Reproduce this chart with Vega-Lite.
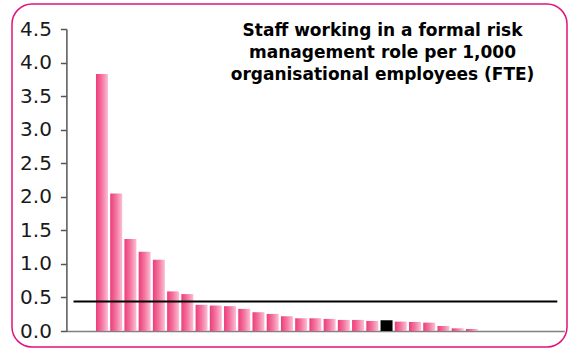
{
  "$schema": "https://vega.github.io/schema/vega-lite/v6.json",
  "autosize": "none",
  "width": 555,
  "height": 343,
  "padding": {"left": 12, "top": 4, "right": 4, "bottom": 2},
  "background": "white",
  "config": {
    "view": {"stroke": "#E2127A", "strokeWidth": 1.5, "cornerRadius": 20},
    "font": "DejaVu Sans"
  },
  "data": {
    "values": [
      {"id": "3", "value": 3.83, "group": "Other"},
      {"id": "4", "value": 2.05, "group": "Other"},
      {"id": "5", "value": 1.37, "group": "Other"},
      {"id": "6", "value": 1.18, "group": "Other"},
      {"id": "7", "value": 1.06, "group": "Other"},
      {"id": "8", "value": 0.59, "group": "Other"},
      {"id": "9", "value": 0.55, "group": "Other"},
      {"id": "10", "value": 0.39, "group": "Other"},
      {"id": "11", "value": 0.38, "group": "Other"},
      {"id": "12", "value": 0.37, "group": "Other"},
      {"id": "13", "value": 0.33, "group": "Other"},
      {"id": "14", "value": 0.28, "group": "Other"},
      {"id": "15", "value": 0.255, "group": "Other"},
      {"id": "16", "value": 0.22, "group": "Other"},
      {"id": "17", "value": 0.19, "group": "Other"},
      {"id": "18", "value": 0.19, "group": "Other"},
      {"id": "19", "value": 0.18, "group": "Other"},
      {"id": "20", "value": 0.165, "group": "Other"},
      {"id": "21", "value": 0.165, "group": "Other"},
      {"id": "22", "value": 0.15, "group": "Other"},
      {"id": "23", "value": 0.16, "group": "Own"},
      {"id": "24", "value": 0.14, "group": "Other"},
      {"id": "25", "value": 0.135, "group": "Other"},
      {"id": "26", "value": 0.125, "group": "Other"},
      {"id": "27", "value": 0.075, "group": "Other"},
      {"id": "28", "value": 0.04, "group": "Other"},
      {"id": "29", "value": 0.03, "group": "Other"}
    ]
  },
  "encoding": {
    "x": {
      "field": "id",
      "type": "nominal",
      "sort": null,
      "scale": {
        "domain": ["1","2","3","4","5","6","7","8","9","10","11","12","13","14","15","16","17","18","19","20","21","22","23","24","25","26","27","28","29","30","31","32","33","34","35"],
        "range": [54.4, 552.4],
        "paddingInner": 0.157,
        "paddingOuter": 0.0785
      },
      "axis": {
        "title": null, "labels": false, "ticks": false, "grid": false,
        "domainColor": "#808080", "domainWidth": 1.5, "offset": -16
      }
    },
    "y": {
      "field": "value",
      "type": "quantitative",
      "scale": {"domain": [0, 4.5], "range": [327, 25], "nice": false, "zero": true},
      "axis": {
        "title": null, "grid": false,
        "values": [0, 0.5, 1, 1.5, 2, 2.5, 3, 3.5, 4, 4.5],
        "format": ".1f",
        "offset": -54.4,
        "domainColor": "#555555", "domainWidth": 1.5,
        "tickColor": "#555555", "tickWidth": 1.5, "tickSize": 6,
        "labelFontSize": 20, "labelColor": "#1a1a1a", "labelPadding": 9,
        "labelFont": "DejaVu Sans"
      }
    }
  },
  "layer": [
    {
      "transform": [{"filter": "datum.group === 'Other'"}],
      "mark": {
        "type": "bar",
        "color": {
          "gradient": "linear", "x1": 0, "y1": 0, "x2": 1, "y2": 0,
          "stops": [
            {"offset": 0, "color": "#EC3C7C"},
            {"offset": 0.5, "color": "#F4769F"},
            {"offset": 1, "color": "#FBBFD5"}
          ]
        }
      }
    },
    {
      "transform": [{"filter": "datum.group === 'Own'"}],
      "mark": {"type": "bar", "color": "#000000"}
    },
    {
      "data": {"values": [{"measure": "Average", "avg": 0.44}]},
      "mark": {"type": "rule", "color": "#000000", "strokeWidth": 2},
      "encoding": {
        "x": {"datum": "1"},
        "x2": {"datum": "35"},
        "y": {"field": "avg", "type": "quantitative"}
      }
    },
    {
      "data": {"values": [{"title": "Staff working in a formal risk management role per 1,000 organisational employees (FTE)", "ty": 4.4}]},
      "mark": {
        "type": "text", "font": "DejaVu Sans", "fontWeight": "bold", "fontSize": 17,
        "align": "center", "baseline": "alphabetic", "lineHeight": 22, "color": "#000000", "dx": -4,
        "text": ["Staff working in a formal risk", "management role per 1,000", "organisational employees (FTE)"]
      },
      "encoding": {
        "x": {"datum": "23"},
        "y": {"field": "ty", "type": "quantitative"}
      }
    }
  ]
}
